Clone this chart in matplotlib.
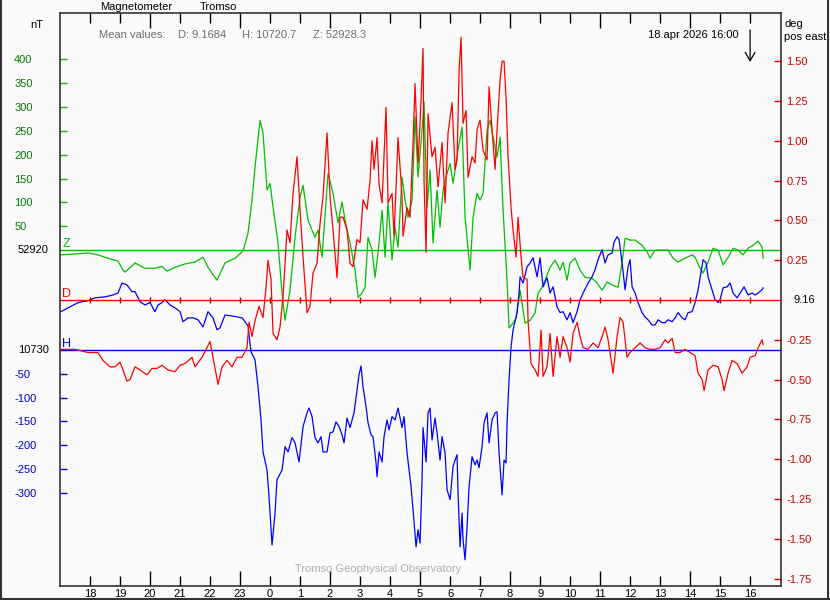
import numpy as np
import matplotlib.pyplot as plt
import matplotlib.transforms as mtransforms
from matplotlib.lines import Line2D

plt.rcParams['font.family'] = ['Liberation Sans', 'DejaVu Sans']
plt.rcParams['font.size'] = 8

# baselines and mean values
Z_BASE = 52920
H_BASE = 10730
D_BASE = 9.16
MEAN_D = 9.1684
MEAN_H = 10720.7
MEAN_Z = 52928.3

# time in minutes after 17:00, values relative to the baselines
z_min = [2, 30, 56, 76, 96, 116, 126, 130, 150, 170,
         190, 204, 214, 230, 250, 270, 286, 296, 314, 330,
         350, 366, 376, 384, 390, 400, 406, 414, 420, 426,
         436, 444, 450, 460, 470, 480, 486, 496, 504, 510,
         516, 524, 536, 546, 556, 564, 570, 580, 590, 596,
         604, 610, 616, 624, 630, 636, 644, 650, 656, 664,
         670, 676, 684, 690, 696, 704, 710, 716, 724, 728,
         734, 740, 746, 754, 760, 766, 774, 780, 786, 796,
         804, 810, 820, 826, 834, 840, 846, 854, 860, 866,
         874, 880, 886, 894, 898, 906, 912, 920, 930, 940,
         950, 956, 964, 970, 980, 990, 1000, 1006, 1014, 1020,
         1030, 1040, 1050, 1064, 1074, 1084, 1094, 1104, 1116, 1124,
         1130, 1140, 1150, 1164, 1174, 1180, 1190, 1204, 1216, 1226,
         1236, 1250, 1264, 1270, 1280, 1286, 1296, 1306, 1316, 1326,
         1336, 1346, 1356, 1366, 1376, 1386, 1396, 1404, 1406]
z_val = [-10, -8, -6, -10, -17, -23, -42, -46, -27, -38,
         -38, -34, -44, -36, -29, -25, -15, -36, -63, -27,
         -17, -2, 36, 105, 174, 272, 245, 126, 140, 90,
         15, -90, -147, -84, 27, 111, 136, 63, 42, 27,
         42, -15, 161, 119, 57, 101, 63, 15, -42, -99,
         -90, -78, 27, 0, -57, -6, 84, -15, 99, -21,
         48, 6, 153, 105, 69, 105, 279, 153, 252, 310,
         90, 168, 15, 126, 48, 126, 161, 182, 140, 210,
         258, 69, -42, 69, 119, 105, 119, 252, 272, 237,
         195, 237, 84, -63, -163, -153, -143, -84, -153, -147,
         -132, -90, -78, -63, -36, -21, -42, -25, -63, -27,
         -17, -42, -57, -59, -69, -84, -67, -73, -78, -27,
         25, 21, 21, 10, -4, -17, 0, 0, 0, -17,
         -25, -17, -10, -15, -38, -48, -25, 4, 0, -31,
         -15, 4, 0, -10, 4, 10, 19, 6, -17]

d_min = [2, 30, 56, 76, 86, 100, 110, 120, 126, 134,
         140, 150, 160, 174, 184, 194, 204, 216, 230, 240,
         250, 264, 270, 284, 294, 300, 306, 316, 324, 334,
         344, 354, 364, 374, 378, 384, 390, 398, 406, 412,
         416, 422, 426, 434, 440, 446, 454, 460, 466, 474,
         480, 486, 494, 500, 506, 514, 520, 526, 534, 540,
         546, 554, 560, 566, 574, 580, 586, 594, 600, 606,
         614, 620, 624, 628, 634, 638, 644, 652, 656, 664,
         668, 676, 684, 686, 694, 700, 706, 710, 716, 720,
         726, 728, 732, 736, 744, 750, 756, 764, 770, 776,
         784, 790, 794, 798, 802, 806, 812, 816, 824, 830,
         834, 840, 846, 854, 858, 864, 870, 874, 880, 884,
         888, 892, 896, 902, 906, 912, 916, 922, 926, 934,
         936, 942, 950, 956, 962, 966, 974, 980, 986, 994,
         1000, 1006, 1014, 1020, 1026, 1034, 1040, 1046, 1056, 1066,
         1076, 1084, 1090, 1096, 1104, 1106, 1114, 1120, 1126, 1134,
         1140, 1150, 1160, 1170, 1180, 1190, 1200, 1210, 1216, 1224,
         1230, 1240, 1250, 1260, 1270, 1276, 1284, 1288, 1296, 1306,
         1316, 1324, 1328, 1336, 1344, 1354, 1364, 1374, 1380, 1390,
         1396, 1404, 1406]
d_val = [-0.31, -0.31, -0.33, -0.33, -0.38, -0.42, -0.42, -0.39, -0.44, -0.51,
         -0.50, -0.42, -0.44, -0.47, -0.43, -0.43, -0.41, -0.44, -0.45, -0.41,
         -0.40, -0.36, -0.42, -0.36, -0.30, -0.26, -0.36, -0.53, -0.42, -0.38,
         -0.42, -0.36, -0.36, -0.30, -0.14, -0.23, -0.13, -0.04, -0.11, 0.08,
         0.25, 0.13, -0.21, -0.25, -0.17, 0.02, 0.44, 0.36, 0.67, 0.90,
         0.57, 0.27, -0.08, -0.04, 0.17, 0.23, 0.48, 0.65, 1.05, 0.65,
         0.44, 0.14, 0.52, 0.52, 0.44, 0.23, 0.21, 0.38, 0.36, 0.63,
         0.57, 0.75, 1.00, 0.82, 1.02, 0.73, 0.61, 1.21, 0.61, 0.67,
         0.40, 1.02, 0.65, 0.40, 0.58, 0.52, 0.99, 1.36, 0.86, 1.11,
         1.58, 0.75, 0.30, 1.17, 0.90, 0.96, 0.71, 0.99, 0.61, 1.05,
         1.24, 0.82, 0.88, 1.44, 1.65, 1.11, 1.19, 0.77, 0.90, 0.86,
         1.07, 1.13, 0.94, 0.88, 1.34, 1.07, 0.82, 1.07, 1.38, 1.50,
         1.50, 1.27, 0.90, 0.58, 0.44, 0.27, 0.52, 0.27, 0.14, 0.13,
         -0.13, -0.40, -0.44, -0.48, -0.19, -0.48, -0.42, -0.21, -0.48, -0.23,
         -0.36, -0.23, -0.30, -0.39, -0.21, -0.14, -0.23, -0.30, -0.31, -0.27,
         -0.30, -0.23, -0.17, -0.25, -0.42, -0.46, -0.23, -0.11, -0.14, -0.36,
         -0.33, -0.30, -0.27, -0.30, -0.31, -0.31, -0.30, -0.25, -0.27, -0.24,
         -0.33, -0.33, -0.31, -0.33, -0.35, -0.46, -0.50, -0.57, -0.44, -0.41,
         -0.42, -0.50, -0.57, -0.46, -0.38, -0.40, -0.46, -0.42, -0.36, -0.35,
         -0.30, -0.25, -0.28]

h_min = [2, 16, 36, 56, 70, 90, 106, 116, 124, 134,
         144, 150, 160, 170, 180, 190, 196, 204, 210, 220,
         230, 240, 246, 256, 266, 276, 286, 296, 306, 314,
         320, 330, 344, 354, 364, 370, 376, 382, 390, 396,
         402, 406, 414, 418, 422, 424, 430, 434, 444, 450,
         456, 464, 470, 478, 486, 494, 498, 504, 510, 516,
         522, 526, 534, 540, 546, 552, 558, 564, 568, 574,
         580, 588, 594, 598, 602, 606, 612, 616, 622, 626,
         632, 634, 638, 644, 648, 654, 658, 664, 670, 676,
         684, 688, 694, 698, 702, 706, 712, 716, 720, 724,
         726, 732, 736, 740, 744, 750, 754, 760, 764, 770,
         774, 780, 786, 790, 794, 796, 800, 804, 806, 810,
         814, 818, 824, 830, 834, 838, 844, 848, 854, 858,
         864, 870, 874, 878, 884, 888, 892, 894, 898, 902,
         906, 914, 918, 920, 926, 934, 940, 946, 954, 960,
         966, 974, 980, 986, 994, 1000, 1006, 1014, 1020, 1026,
         1034, 1040, 1046, 1056, 1064, 1070, 1076, 1084, 1090, 1096,
         1104, 1108, 1114, 1118, 1124, 1130, 1136, 1140, 1144, 1150,
         1156, 1164, 1170, 1176, 1184, 1190, 1196, 1204, 1210, 1216,
         1224, 1230, 1236, 1244, 1250, 1256, 1264, 1270, 1276, 1282,
         1286, 1292, 1296, 1304, 1310, 1316, 1320, 1326, 1334, 1340,
         1346, 1354, 1360, 1368, 1376, 1384, 1390, 1396, 1404, 1406]
h_val = [80, 88, 99, 103, 109, 111, 115, 119, 140, 136,
         122, 122, 101, 94, 99, 80, 94, 99, 105, 94,
         88, 80, 59, 67, 67, 63, 48, 80, 67, 42,
         46, 73, 71, 69, 67, 59, 50, -4, -21, -78,
         -147, -214, -252, -308, -373, -409, -342, -272, -252, -203,
         -214, -184, -195, -235, -161, -132, -122, -140, -184, -195,
         -182, -214, -214, -174, -172, -151, -161, -178, -195, -143,
         -163, -132, -84, -52, -34, -78, -119, -153, -178, -182,
         -237, -266, -214, -235, -182, -147, -168, -140, -147, -122,
         -163, -140, -216, -252, -287, -335, -413, -377, -405, -272,
         -163, -235, -132, -122, -189, -143, -174, -231, -182, -216,
         -293, -314, -245, -231, -220, -300, -413, -342, -398, -440,
         -371, -287, -224, -241, -231, -247, -203, -153, -132, -195,
         -147, -132, -130, -216, -304, -231, -237, -153, -63, 6,
         42, 78, 119, 153, 140, 174, 182, 193, 153, 193,
         132, 151, 119, 132, 90, 78, 80, 63, 78, 57,
         80, 105, 119, 140, 153, 168, 189, 210, 182, 199,
         203, 226, 237, 231, 182, 126, 174, 189, 132, 119,
         99, 78, 69, 63, 52, 52, 63, 57, 57, 63,
         59, 67, 78, 67, 63, 78, 80, 99, 126, 163,
         189, 182, 153, 126, 105, 99, 105, 130, 132, 140,
         119, 109, 119, 132, 115, 119, 115, 119, 126, 130]

assert len(z_min) == len(z_val)
assert len(d_min) == len(d_val)
assert len(h_min) == len(h_val)

# hour ticks, counted from 17:00
hour_pos = list(range(1, 24))
hour_lbl = ['18', '19', '20', '21', '22', '23', '0', '1', '2', '3', '4', '5',
            '6', '7', '8', '9', '10', '11', '12', '13', '14', '15', '16']
long_pos = [3, 6, 9, 12, 15, 18, 21]

z_ticks = [50, 100, 150, 200, 250, 300, 350, 400]
h_ticks = [-50, -100, -150, -200, -250, -300]
d_ticks = [1.5, 1.25, 1.0, 0.75, 0.5, 0.25, -0.25, -0.5, -0.75, -1.0, -1.25, -1.5, -1.75]

BG = '#fafafa'
GREEN, GREEN_T = '#00c000', '#008000'
RED, RED_T = '#ff0000', '#d00000'
BLUE, BLUE_T = '#0000ff', '#0000c8'
FRAME = '#333333'

W, H = 830, 600
fig = plt.figure(figsize=(W / 100, H / 100), dpi=100, facecolor=BG)
ax = fig.add_axes([60 / W, 14 / H, 721 / W, 573 / H], facecolor=BG)
axh = ax.twinx()
axd = ax.twinx()

ax.set_xlim(0, 24.03)
ax.set_ylim(-704, 497)
axh.set_ylim(-495, 706)
axd.set_ylim(-1.797, 1.803)

# baselines
ax.axhline(0, color=GREEN, lw=1.0)
axh.axhline(0, color=BLUE, lw=1.0)
axd.axhline(0, color=RED, lw=1.0)
axd.plot(hour_pos, np.zeros(len(hour_pos)), ls='none', marker='|',
         ms=4.5, mew=1.0, color='#9a0000')

# curves
ax.plot(np.array(z_min) / 60, z_val, color=GREEN, lw=0.9)
axh.plot(np.array(h_min) / 60, h_val, color=BLUE, lw=0.9)
axd.plot(np.array(d_min) / 60, d_val, color=RED, lw=0.9)

# x axis: long ticks every 3 hours, short ones in between
minor_pos = [p for p in hour_pos if p not in long_pos]
ax.set_xticks(long_pos, labels=[hour_lbl[p - 1] for p in long_pos])
ax.set_xticks(minor_pos, labels=[hour_lbl[p - 1] for p in minor_pos], minor=True)
ax.tick_params(axis='x', which='both', direction='in', top=True, bottom=True,
               color='black', width=1, pad=2, labelsize=8)
ax.tick_params(axis='x', which='major', length=11)
ax.tick_params(axis='x', which='minor', length=7.5)

# left: Z ticks (green), H ticks (blue)
ax.set_yticks(z_ticks, labels=[str(v) for v in z_ticks], ha='left')
ax.tick_params(axis='y', direction='in', length=5, width=1, color=GREEN,
               labelcolor=GREEN_T, pad=33, labelsize=8)
axh.yaxis.tick_left()
axh.set_yticks(h_ticks, labels=[str(v) for v in h_ticks], ha='left')
axh.tick_params(axis='y', direction='in', length=5, width=1, color=BLUE,
                labelcolor=BLUE_T, pad=33, labelsize=8)

# right: D ticks (red)
axd.set_yticks(d_ticks, labels=[f'{v:.2f}' for v in d_ticks])
axd.tick_params(axis='y', direction='in', length=5, width=1, color=RED,
                labelcolor=RED_T, pad=4, labelsize=8)

for a in (axh, axd):
    for s in a.spines.values():
        s.set_visible(False)
for s in ax.spines.values():
    s.set_color(FRAME)
    s.set_linewidth(1.2)

# baseline values and component letters
tz = mtransforms.blended_transform_factory(ax.transAxes, ax.transData)
th = mtransforms.blended_transform_factory(axh.transAxes, axh.transData)
td = mtransforms.blended_transform_factory(axd.transAxes, axd.transData)
ax.text(-0.0155, 0, str(Z_BASE), transform=tz, ha='right', va='center', color='black')
axh.text(-0.0155, 0, str(H_BASE), transform=th, ha='right', va='center', color='black')
axd.text(1.018, 0, f'{D_BASE:.2f}', transform=td, ha='left', va='center', color='black')
ax.text(0.003, 0, 'Z', transform=tz, ha='left', va='bottom', color=GREEN, fontsize=9)
axh.text(0.003, 0, 'H', transform=th, ha='left', va='bottom', color=BLUE, fontsize=9)
axd.text(0.003, 0, 'D', transform=td, ha='left', va='bottom', color=RED, fontsize=9)

# header texts
def ftext(x, y, s, **kw):
    fig.text(x / W, 1 - y / H, s, va='center', **kw)

ftext(100, 7, 'Magnetometer')
ftext(200, 7, 'Tromso')
ftext(30, 25, 'nT')
ftext(784, 24, 'deg')
ftext(784, 37, 'pos east')
GREY = '#6e6e6e'
ftext(99, 35, 'Mean values:', color=GREY)
ftext(178, 35, f'D: {MEAN_D}', color=GREY)
ftext(242, 35, f'H: {MEAN_H}', color=GREY)
ftext(313, 35, f'Z: {MEAN_Z}', color=GREY)
ftext(648, 35, '18.apr 2026 16:00')
ftext(378, 569, 'Tromso Geophysical Observatory', ha='center', color='#b0b0b0')

# arrow marking the current time (16:00)
ax.annotate('', xy=(23, 1 - 62 / H), xytext=(23, 1 - 30 / H),
            xycoords=('data', 'figure fraction'), textcoords=('data', 'figure fraction'),
            arrowprops=dict(arrowstyle='->,head_length=0.6,head_width=0.35',
                            lw=0.9, color='black', mutation_scale=10,
                            shrinkA=0, shrinkB=0),
            annotation_clip=False)

# outer frame of the picture
for xs, ys in (([0.001, 0.001], [0, 1]), ([0.998, 0.998], [0, 1]), ([0, 1], [0.002, 0.002])):
    fig.add_artist(Line2D(xs, ys, transform=fig.transFigure, color=FRAME, lw=1.5))

fig.savefig('out.png', dpi=100, facecolor=BG)
